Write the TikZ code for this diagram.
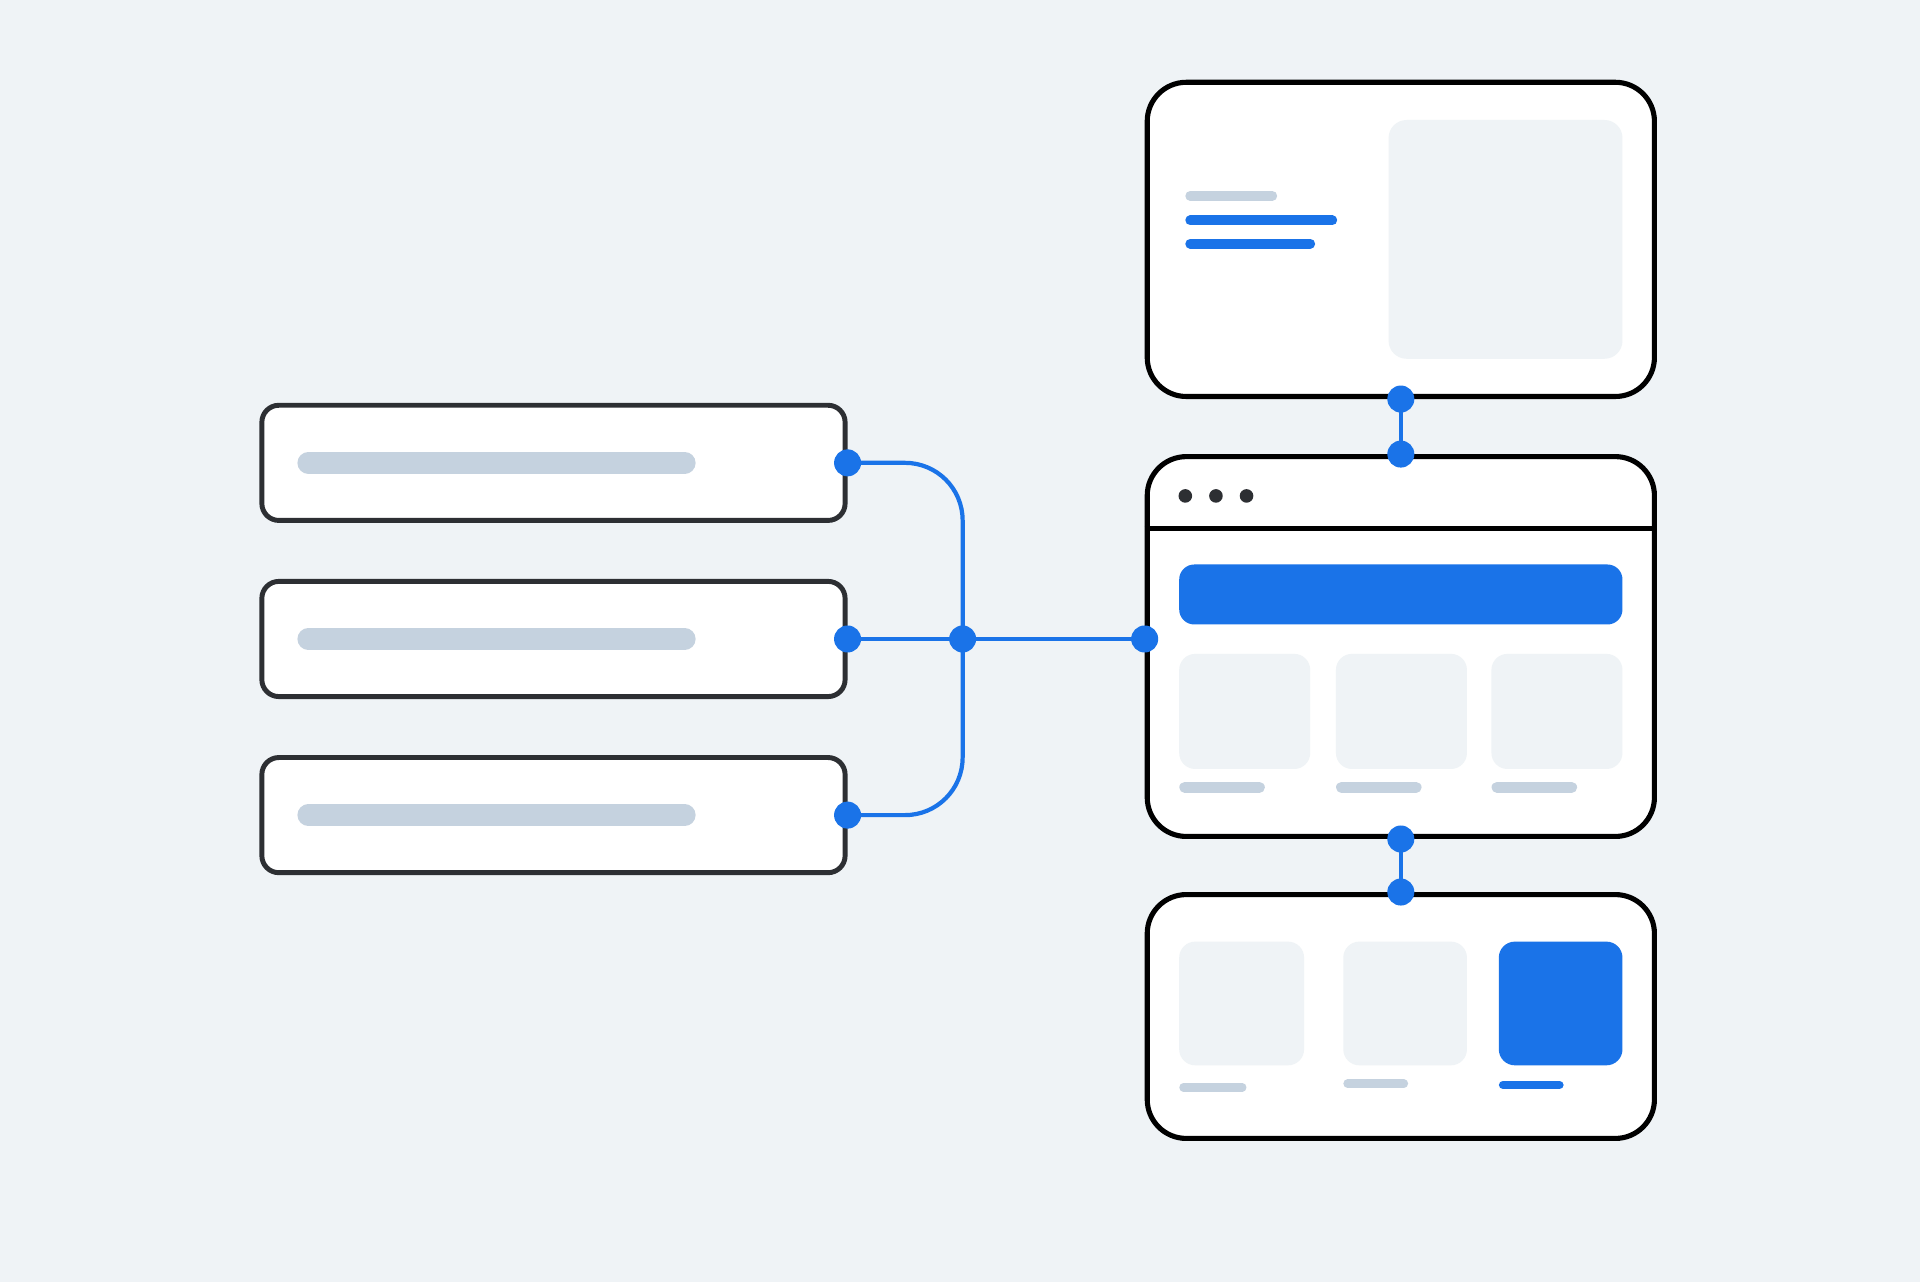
\documentclass[tikz,border=0pt]{standalone}
\usepackage{tikz}
\usetikzlibrary{positioning}

\definecolor{bgpale}{HTML}{EFF3F6}
\definecolor{skeleton}{HTML}{C5D2DF}
\definecolor{accent}{HTML}{1A73E8}
\definecolor{ink}{HTML}{2D2F33}

\begin{document}
\begin{tikzpicture}[
        x=0.012245cm, y=-0.012245cm,
        row/.style={draw=ink, line width=1.4pt, rectangle, rounded corners=0.17cm, fill=white, minimum width=5.829cm, minimum height=1.151cm, inner sep=0pt},
        screen/.style={draw=black, line width=1.45pt, rectangle, rounded corners=0.39cm, fill=white, minimum width=5.069cm, inner sep=0pt},
        joint/.style={circle, fill=accent, minimum size=0.27cm, inner sep=0pt},
        wire/.style={draw=accent, line width=1.2pt},
        skel/.style={line cap=round, line width=#1}
    ]
        % Background
        \fill[bgpale] (0,0) rectangle (1568,1047);

        % Input rows
        \node (row1) [row] at (452,378) {};
        \node (row2) [row, below=0.56cm of row1] {};
        \node (row3) [row, below=0.56cm of row2] {};
        \foreach \r in {row1,row2,row3}
            \draw[skeleton, skel=6.25pt] ([xshift=0.49cm]\r.west) -- ([xshift=4.25cm]\r.west);

        % Screens
        \node (main) [screen, minimum height=3.796cm] at (1144,528) {};
        \node (top) [screen, minimum height=3.14cm, above=0.55cm of main] {};
        \node (bottom) [screen, minimum height=2.437cm, below=0.53cm of main] {};

        % Top screen content
        \fill[bgpale, rounded corners=0.18cm] (1134,98) rectangle (1325,293);
        \draw[skeleton, skel=2.8pt] (972,160) -- (1039,160);
        \draw[accent, skel=2.8pt] (972,180) -- (1088,180);
        \draw[accent, skel=2.8pt] (972,199) -- (1070,199);

        % Main screen content
        \draw[black, line width=1.45pt] ([yshift=-0.745cm]main.north west) -- ([yshift=-0.745cm]main.north east);
        \foreach \x in {968,993,1018}
            \fill[ink] (\x,405) circle (0.068cm);
        \fill[accent, rounded corners=0.15cm] (963,461) rectangle (1325,510);
        \foreach \x in {963,1091,1218} {
            \fill[bgpale, rounded corners=0.16cm] (\x,534) rectangle ++(107,94);
            \draw[skeleton, skel=3.1pt] (\x+4.5,643) -- ++(61,0);
        }

        % Bottom screen content
        \fill[bgpale, rounded corners=0.16cm] (963,769) rectangle ++(102,101);
        \fill[bgpale, rounded corners=0.16cm] (1097,769) rectangle ++(101,101);
        \fill[accent, rounded corners=0.16cm] (1224,769) rectangle ++(101,101);
        \draw[skeleton, skel=2.4pt] (966.5,888) -- (1014.5,888);
        \draw[skeleton, skel=2.4pt] (1100.5,885) -- (1146.5,885);
        \draw[accent, skel=2.4pt] (1227.5,886) -- (1273.5,886);

        % Connections
        \coordinate (hub) at ([xshift=1.15cm]row2.east);
        \coordinate (port) at (row2.east -| main.west);
        \draw[wire, rounded corners=0.575cm] (row1.east) -| (hub) |- (row3.east);
        \draw[wire] (row2.east) -- (port);
        \draw[wire] (top.south) -- (main.north);
        \draw[wire] (main.south) -- (bottom.north);

        % Joints
        \foreach \p [count=\i] in {row1.east, row2.east, row3.east, hub, port, top.south, main.north, main.south, bottom.north}
            \node (j\i) [joint] at (\p) {};
    \end{tikzpicture}
\end{document}
